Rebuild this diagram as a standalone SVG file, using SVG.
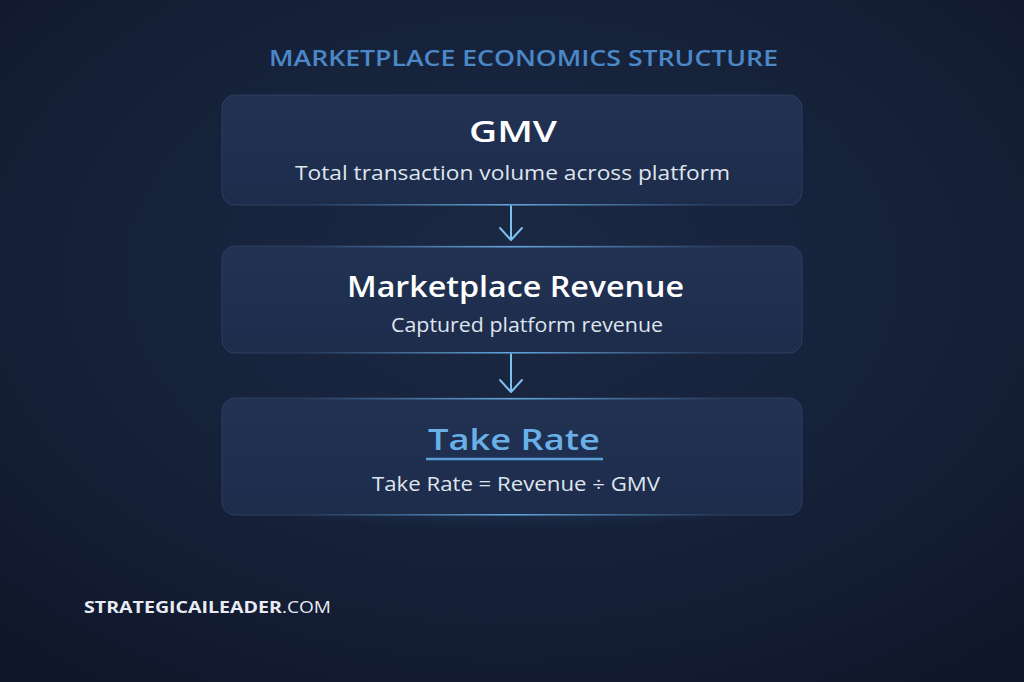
<svg xmlns="http://www.w3.org/2000/svg" width="1024" height="682" viewBox="0 0 1024 682">
<defs>
<radialGradient id="bg" cx="50%" cy="40%" r="75%">
<stop offset="0" stop-color="#1c2944"/>
<stop offset="0.6" stop-color="#152038"/>
<stop offset="1" stop-color="#0f1629"/>
</radialGradient>
<linearGradient id="box" x1="0" y1="0" x2="0" y2="1">
<stop offset="0" stop-color="#223253"/>
<stop offset="1" stop-color="#1d2c4b"/>
</linearGradient>
<linearGradient id="edge" x1="0" y1="0" x2="1" y2="0">
<stop offset="0" stop-color="#5aa0d8" stop-opacity="0"/>
<stop offset="0.5" stop-color="#6ab4ea" stop-opacity="0.9"/>
<stop offset="1" stop-color="#5aa0d8" stop-opacity="0"/>
</linearGradient>
<radialGradient id="glow" cx="50%" cy="0%" r="60%">
<stop offset="0" stop-color="#3a6a9a" stop-opacity="0.45"/>
<stop offset="1" stop-color="#3a6a9a" stop-opacity="0"/>
</radialGradient>
<style>
.box{fill:url(#box);stroke:#2c3e60;stroke-width:1}
.h{font-family:"Open Sans","Lato",sans-serif;font-weight:600;fill:#ffffff;text-anchor:middle}
.s{font-family:"Open Sans","Lato",sans-serif;font-weight:400;fill:#dfe5ee;text-anchor:middle;font-size:20px}
.c{stroke:#7cc0ee;stroke-width:2;fill:none;stroke-linecap:round;stroke-linejoin:round}
</style>
</defs>
<rect width="1024" height="682" fill="url(#bg)"/>
<ellipse cx="512" cy="520" rx="300" ry="40" fill="url(#glow)"/>
<text x="523.5" y="66" font-family="'Open Sans', Lato, sans-serif" font-weight="600" font-size="21" fill="#4a88c7" text-anchor="middle" textLength="509" lengthAdjust="spacingAndGlyphs">MARKETPLACE ECONOMICS STRUCTURE</text>
<g id="connectors">
<line class="c" x1="511" y1="205" x2="511" y2="239"/>
<path class="c" d="M500 228 L511 240 L522 228"/>
<line class="c" x1="511" y1="353" x2="511" y2="391"/>
<path class="c" d="M500 380 L511 392 L522 380"/>
</g>
<g id="gmv">
<rect class="box" x="222" y="95" width="580" height="110" rx="13"/>
<rect x="300" y="204" width="424" height="1.5" fill="url(#edge)"/>
<text class="h" x="513" y="142" font-size="28" textLength="88" lengthAdjust="spacingAndGlyphs">GMV</text>
<text class="s" x="512.5" y="180" textLength="435" lengthAdjust="spacingAndGlyphs">Total transaction volume across platform</text>
</g>
<g id="revenue">
<rect class="box" x="222" y="246" width="580" height="107" rx="13"/>
<rect x="300" y="246" width="424" height="1.5" fill="url(#edge)"/>
<rect x="300" y="352" width="424" height="1.5" fill="url(#edge)"/>
<text class="h" x="515.5" y="297" font-size="28" textLength="337" lengthAdjust="spacingAndGlyphs">Marketplace Revenue</text>
<text class="s" x="527" y="332" textLength="272" lengthAdjust="spacingAndGlyphs">Captured platform revenue</text>
</g>
<g id="takerate">
<rect class="box" x="222" y="398" width="580" height="117" rx="13"/>
<rect x="300" y="398" width="424" height="1.5" fill="url(#edge)"/>
<rect x="300" y="514" width="424" height="1.5" fill="url(#edge)"/>
<text class="h" x="514" y="450" font-size="29" style="fill:#6ab0e8" textLength="172" lengthAdjust="spacingAndGlyphs">Take Rate</text>
<line x1="426" y1="459" x2="603" y2="459" stroke="#5a9fd8" stroke-width="2.5"/>
<text class="s" x="516" y="491" textLength="288" lengthAdjust="spacingAndGlyphs">Take Rate = Revenue ÷ GMV</text>
</g>
<text x="84" y="613" font-family="'Open Sans', Lato, sans-serif" font-size="16" fill="#e8ebf2"><tspan font-weight="700" textLength="198" lengthAdjust="spacingAndGlyphs">STRATEGICAILEADER</tspan><tspan font-weight="400" textLength="49" lengthAdjust="spacingAndGlyphs">.COM</tspan></text>
</svg>
